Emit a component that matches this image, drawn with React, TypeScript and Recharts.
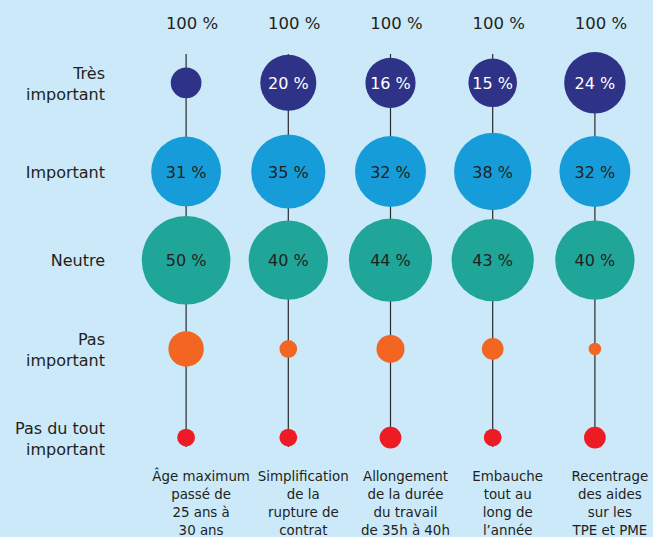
import { ScatterChart, Scatter, XAxis, YAxis, ZAxis, CartesianGrid } from 'recharts';

// column labels (bottom) and the total printed above each column
const categories = [
  'Âge maximum\npassé de\n25 ans à\n30 ans',
  'Simplification\nde la\nrupture de\ncontrat',
  'Allongement\nde la durée\ndu travail\nde 35h à 40h',
  'Embauche\ntout au\nlong de\nl’année',
  'Recentrage\ndes aides\nsur les\nTPE et PME',
];
const totals = [100, 100, 100, 100, 100];

// answer levels, top to bottom
const levels = ['Très\nimportant', 'Important', 'Neutre', 'Pas\nimportant', 'Pas du tout\nimportant'];

// % of answers per level (unlabelled small bubbles are estimated from their size)
const tresImportant = [6, 20, 16, 15, 24];
const important = [31, 35, 32, 38, 32];
const neutre = [50, 40, 44, 43, 40];
const pasImportant = [8, 2, 5, 3, 1];
const pasDuTout = [2, 2, 3, 2, 3];

const TEXT = '#231f20';
const FONT = "'DejaVu Sans', sans-serif";
const AREA_PER_PCT = Math.PI * 6.27 * 6.27;
const colIdx = categories.map((_, i) => i);
const rowIdx = levels.map((_, i) => i);

const rows = [
  { name: 'Très important', values: tresImportant, color: '#2e3387', label: '#ffffff' },
  { name: 'Important', values: important, color: '#169dd9', label: TEXT },
  { name: 'Neutre', values: neutre, color: '#20a599', label: TEXT },
  { name: 'Pas important', values: pasImportant, color: '#f26522', label: TEXT },
  { name: 'Pas du tout important', values: pasDuTout, color: '#ed1c24', label: TEXT },
];

const toPoints = (values: number[], row: number) =>
  values.map((value, col) => ({ col, row, value }));

const Bubble = (props: any) => {
  const { cx, cy, fill, payload, labelColor } = props;
  const r = props.width ? props.width / 2 : Math.sqrt((props.size || 0) / Math.PI);
  return (
    <g>
      <circle cx={cx} cy={cy} r={r} fill={fill} />
      {payload.value >= 10 && (
        <text x={cx} y={cy + 6} textAnchor="middle" fontSize={16} fontFamily={FONT} fill={labelColor}>
          {`${payload.value} %`}
        </text>
      )}
    </g>
  );
};

const LevelTick = ({ x, y, payload }: any) => {
  const lines = levels[payload.value].split('\n');
  const first = y + 6 - (lines.length - 1) * 10;
  return (
    <text textAnchor="end" fontSize={16} fontFamily={FONT} fill={TEXT}>
      {lines.map((l, k) => (
        <tspan key={k} x={x - 30} y={first + k * 21}>{l}</tspan>
      ))}
    </text>
  );
};

const CategoryTick = ({ x, y, payload }: any) => {
  const lines = categories[payload.value].split('\n');
  return (
    <text textAnchor="middle" fontSize={13.4} fontFamily={FONT} fill={TEXT}>
      {lines.map((l, k) => (
        <tspan key={k} x={x + 15} y={y + 34 + k * 18}>{l}</tspan>
      ))}
    </text>
  );
};

const TotalTick = ({ x, y, payload }: any) => (
  <text x={x + 6} y={y - 25} textAnchor="middle" fontSize={16.5} fontFamily={FONT} fill={TEXT}>
    {`${totals[payload.value]} %`}
  </text>
);

export default function App() {
  return (
    <div style={{ position: 'absolute', left: 0, top: 0, width: 653, height: 537, background: '#cbe9f9' }}>
      <ScatterChart width={653} height={537} margin={{ top: 0, right: 7, bottom: 0, left: 0 }}>
        <CartesianGrid horizontal={false} syncWithTicks stroke="#2a2a2a" strokeWidth={1.2} />
        <XAxis
          type="number"
          dataKey="col"
          domain={[-0.5, 4.5]}
          ticks={colIdx}
          height={90}
          axisLine={false}
          tickLine={false}
          tickSize={0}
          tickMargin={0}
          interval={0}
          tick={<CategoryTick />}
        />
        <XAxis
          xAxisId="top"
          orientation="top"
          type="number"
          dataKey="col"
          domain={[-0.5, 4.5]}
          ticks={colIdx}
          height={54}
          axisLine={false}
          tickLine={false}
          tickSize={0}
          tickMargin={0}
          interval={0}
          tick={<TotalTick />}
        />
        <YAxis
          type="number"
          dataKey="row"
          domain={[-0.325, 4.106]}
          reversed
          ticks={rowIdx}
          width={135}
          axisLine={false}
          tickLine={false}
          tickSize={0}
          tickMargin={0}
          interval={0}
          tick={<LevelTick />}
        />
        <ZAxis type="number" dataKey="value" domain={[0, 50]} range={[0, 50 * AREA_PER_PCT]} />
        {/* invisible series so the top axis carrying the totals gets drawn */}
        <Scatter
          xAxisId="top"
          data={totals.map((total, col) => ({ col, row: 0, value: 0, total }))}
          isAnimationActive={false}
          shape={() => <g />}
        />
        {rows.map((s, r) => (
          <Scatter
            key={s.name}
            name={s.name}
            data={toPoints(s.values, r)}
            fill={s.color}
            isAnimationActive={false}
            shape={(p: any) => <Bubble {...p} labelColor={s.label} />}
          />
        ))}
      </ScatterChart>
    </div>
  );
}
